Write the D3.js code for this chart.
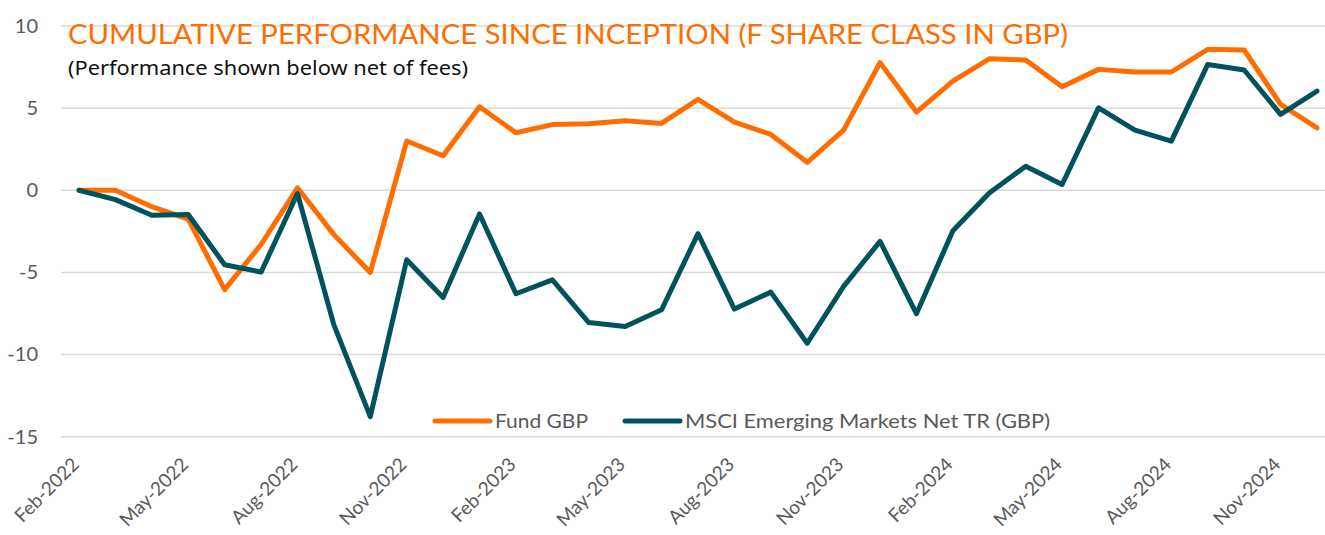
<!DOCTYPE html>
<html>
<head>
<meta charset="utf-8">
<script src="https://cdn.jsdelivr.net/npm/d3@7"></script>
<style>
  body { margin: 0; background: #fff; }
  svg { display: block; font-family: Lato, "Open Sans", sans-serif; }
</style>
</head>
<body>
<svg id="perf" width="1325" height="535"></svg>
<script>
const months = ["Feb-2022","Mar-2022","Apr-2022","May-2022","Jun-2022","Jul-2022","Aug-2022","Sep-2022","Oct-2022","Nov-2022","Dec-2022",
  "Jan-2023","Feb-2023","Mar-2023","Apr-2023","May-2023","Jun-2023","Jul-2023","Aug-2023","Sep-2023","Oct-2023","Nov-2023","Dec-2023",
  "Jan-2024","Feb-2024","Mar-2024","Apr-2024","May-2024","Jun-2024","Jul-2024","Aug-2024","Sep-2024","Oct-2024","Nov-2024","Dec-2024"];
const fundGBP = [0, 0, -1.0, -1.75, -6.05, -3.3, 0.15, -2.7, -5.0, 3.0, 2.1,
  5.08, 3.5, 4.0, 4.05, 4.23, 4.07, 5.53, 4.15, 3.4, 1.7, 3.66, 7.77,
  4.76, 6.65, 8.0, 7.93, 6.3, 7.36, 7.2, 7.2, 8.58, 8.54, 5.23, 3.8];
const msciEM = [0, -0.57, -1.52, -1.48, -4.53, -4.98, -0.2, -8.19, -13.78, -4.23, -6.52,
  -1.44, -6.3, -5.45, -8.05, -8.29, -7.27, -2.64, -7.23, -6.2, -9.31, -5.85, -3.11,
  -7.52, -2.46, -0.16, 1.46, 0.35, 5.02, 3.66, 2.99, 7.66, 7.32, 4.62, 6.04];
const yTicks = [-15, -10, -5, 0, 5, 10];
const xTickLabels = ["Feb-2022","May-2022","Aug-2022","Nov-2022","Feb-2023","May-2023","Aug-2023","Nov-2023","Feb-2024","May-2024","Aug-2024","Nov-2024"];
const seriesNames = ["Fund GBP", "MSCI Emerging Markets Net TR (GBP)"];
const colors = ["#ff6d00", "#00535a"];

const svg = d3.select("svg#perf");
const gridLeft = 61, gridRight = 1325;

const x = d3.scalePoint().domain(months).range([79, 1317]);
const y = d3.scaleLinear().domain([-15, 10]).range([436.7, 26]);

// gridlines
svg.append("g").attr("class", "grid")
  .selectAll("line").data(yTicks).join("line")
  .attr("x1", gridLeft).attr("x2", gridRight)
  .attr("y1", d => y(d)).attr("y2", d => y(d))
  .attr("stroke", "#d9d9d9").attr("stroke-width", 1.5);

// y axis labels (plain hyphen minus like the original)
const leftAxis = d3.axisLeft(y).tickValues(yTicks).tickSize(0).tickPadding(0)
  .tickFormat(d => String(d));
svg.append("g").attr("transform", "translate(38,0)").call(leftAxis)
  .call(g => g.select(".domain").remove())
  .selectAll("text")
  .attr("fill", "#595959").attr("font-size", 20)
  .attr("font-family", "Lato, sans-serif");

// x axis labels, rotated
const bottomAxis = d3.axisBottom(x).tickValues(xTickLabels).tickSize(0).tickPadding(0);
svg.append("g").attr("transform", "translate(0,452)").call(bottomAxis)
  .call(g => g.select(".domain").remove())
  .selectAll("text")
  .attr("fill", "#595959").attr("font-size", 19)
  .attr("font-family", "Lato, sans-serif")
  .attr("text-anchor", "end")
  .attr("dy", "0.35em")
  .attr("transform", "translate(-4,9) rotate(-45)");

// title
svg.append("text")
  .attr("x", 68).attr("y", 44)
  .attr("fill", "#ff6d00").attr("font-size", 26)
  .attr("font-family", "Lato, sans-serif")
  .attr("textLength", 1000).attr("lengthAdjust", "spacingAndGlyphs")
  .text("CUMULATIVE PERFORMANCE SINCE INCEPTION (F SHARE CLASS IN GBP)");
svg.append("text")
  .attr("x", 68).attr("y", 75)
  .attr("fill", "#111").attr("font-size", 20)
  .attr("font-family", "'Noto Sans', sans-serif")
  .attr("textLength", 400).attr("lengthAdjust", "spacingAndGlyphs")
  .text("(Performance shown below net of fees)");

// lines
const lineGen = d3.line()
  .x((d, i) => x(months[i]))
  .y(d => y(d));

svg.append("path")
  .datum(fundGBP)
  .attr("fill", "none")
  .attr("stroke", colors[0])
  .attr("stroke-width", 5)
  .attr("stroke-linejoin", "round")
  .attr("stroke-linecap", "round")
  .attr("d", lineGen);
svg.append("path")
  .datum(msciEM)
  .attr("fill", "none")
  .attr("stroke", colors[1])
  .attr("stroke-width", 5)
  .attr("stroke-linejoin", "round")
  .attr("stroke-linecap", "round")
  .attr("d", lineGen);

// legend
const legend = svg.append("g").attr("class", "legend");
const legendX = [435, 625];
const legendLen = [93, 365];
seriesNames.forEach((name, i) => {
  legend.append("line")
    .attr("x1", legendX[i]).attr("x2", legendX[i] + 55)
    .attr("y1", 421).attr("y2", 421)
    .attr("stroke", colors[i]).attr("stroke-width", 5)
    .attr("stroke-linecap", "round");
  legend.append("text")
    .attr("x", legendX[i] + 60).attr("y", 428)
    .attr("fill", "#595959").attr("font-size", 20)
    .attr("textLength", legendLen[i]).attr("lengthAdjust", "spacingAndGlyphs")
    .text(name);
});
</script>
</body>
</html>
